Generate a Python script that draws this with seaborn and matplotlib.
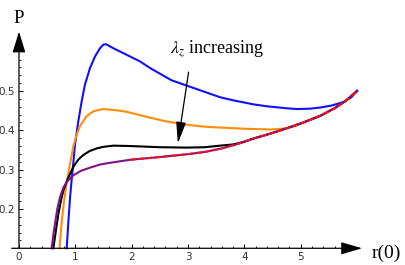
import matplotlib
matplotlib.use("Agg")
import matplotlib.pyplot as plt
from matplotlib.ticker import FixedLocator
import numpy as np
import seaborn as sns

plt.rcParams["mathtext.fontset"] = "stix"

# curves, r(0) vs P
blue_x = [0.847, 0.875, 0.906, 0.935, 0.965, 0.994, 1.053, 1.113, 1.17, 1.26, 1.35, 1.44, 1.50, 1.545,
          1.67, 1.91, 2.15, 2.33, 2.71, 3.21, 3.57, 3.81, 4.16, 4.4, 4.75, 4.93, 5.17, 5.35, 5.55, 5.76, 5.9, 6.0]
blue_y = [0.1, 0.165, 0.228, 0.275, 0.318, 0.363, 0.423, 0.474, 0.516, 0.558, 0.588, 0.609, 0.618, 0.619,
          0.609, 0.592, 0.575, 0.558, 0.527, 0.502, 0.484, 0.476, 0.466, 0.461, 0.456, 0.454, 0.455, 0.458, 0.463, 0.472, 0.484, 0.5]

orange_x = [0.72, 0.76, 0.80, 0.84, 0.90, 0.965, 1.02, 1.08, 1.2, 1.32, 1.42, 1.5, 1.67, 1.91, 2.33, 2.6,
            2.98, 3.3, 3.57, 4.0, 4.46, 4.75, 4.93, 5.05, 5.35, 5.6, 5.8, 6.0]
orange_y = [0.1, 0.17, 0.22, 0.26, 0.31, 0.359, 0.387, 0.41, 0.436, 0.448, 0.452, 0.454, 0.452, 0.447, 0.432, 0.423,
            0.414, 0.409, 0.407, 0.404, 0.402, 0.405, 0.412, 0.42, 0.437, 0.456, 0.475, 0.5]

black_x = [0.61, 0.66, 0.70, 0.75, 0.79, 0.86, 0.965, 1.05, 1.14, 1.25, 1.38, 1.5, 1.68, 1.97, 2.5, 2.98,
           3.3, 3.57, 3.8, 4.0, 4.16, 4.45, 4.75, 5.05, 5.35, 5.6, 5.8, 6.0]
black_y = [0.1, 0.15, 0.188, 0.225, 0.248, 0.275, 0.307, 0.325, 0.337, 0.347, 0.354, 0.358, 0.361, 0.36, 0.357, 0.356,
           0.357, 0.361, 0.364, 0.371, 0.379, 0.391, 0.405, 0.42, 0.437, 0.456, 0.475, 0.5]

purple_x = [0.58, 0.61, 0.64, 0.68, 0.73, 0.79, 0.85, 0.92, 0.97, 1.1, 1.26, 1.44, 1.6, 1.97, 2.5, 2.98,
            3.3, 3.6, 3.9, 4.16, 4.45, 4.75, 5.05, 5.35, 5.6, 5.8, 6.0]
purple_y = [0.1, 0.135, 0.163, 0.2, 0.231, 0.255, 0.269, 0.28, 0.286, 0.297, 0.305, 0.313, 0.317, 0.325, 0.332, 0.339,
            0.345, 0.354, 0.366, 0.379, 0.391, 0.405, 0.42, 0.437, 0.456, 0.475, 0.5]

red_x = [1.97, 2.5, 2.98, 3.3, 3.6, 3.9, 4.16, 4.45, 4.75, 5.05, 5.35, 5.6, 5.8, 6.0]
red_y = [0.325, 0.332, 0.339, 0.345, 0.354, 0.366, 0.379, 0.391, 0.405, 0.42, 0.437, 0.456, 0.475, 0.5]

x_ticks = [0, 1, 2, 3, 4, 5]
y_ticks = [0.2, 0.3, 0.4, 0.5]

fig = plt.figure(figsize=(4.05, 2.65), dpi=100)
ax = fig.add_axes([0, 0, 1, 1])

lw = 1.5
sns.lineplot(x=blue_x, y=blue_y, color="#1010ff", lw=lw, sort=False, estimator=None, ax=ax)
sns.lineplot(x=orange_x, y=orange_y, color="#ff8c0a", lw=lw, sort=False, estimator=None, ax=ax)
sns.lineplot(x=black_x, y=black_y, color="black", lw=lw, sort=False, estimator=None, ax=ax)
sns.lineplot(x=purple_x, y=purple_y, color="#80108a", lw=lw, sort=False, estimator=None, ax=ax)
sns.lineplot(x=red_x, y=red_y, color="#ff1010", lw=lw, sort=False, estimator=None, ax=ax,
             linestyle=(0, (2.5, 1.5)))

ax.set_xlim(-0.337, 6.851)
ax.set_ylim(0.0575, 0.7313)

# Mathematica-style axes crossing at (0, 0.1)
for s in ax.spines.values():
    s.set_visible(False)
ax.spines["left"].set_position(("data", 0))
ax.spines["bottom"].set_position(("data", 0.1))

ax.annotate("", xy=(6.09, 0.1), xytext=(-0.13, 0.1),
            arrowprops=dict(arrowstyle="-|>,head_length=1.3,head_width=0.38", mutation_scale=10,
                            lw=0.9, color="black", shrinkA=0, shrinkB=0))
ax.annotate("", xy=(0, 0.651), xytext=(0, 0.1),
            arrowprops=dict(arrowstyle="-|>,head_length=1.3,head_width=0.4", mutation_scale=10,
                            lw=0.9, color="black", shrinkA=0, shrinkB=0))

ax.xaxis.set_major_locator(FixedLocator(x_ticks))
ax.xaxis.set_minor_locator(FixedLocator(np.arange(0.2, 5.9, 0.2)))
ax.yaxis.set_major_locator(FixedLocator(y_ticks))
ax.yaxis.set_minor_locator(FixedLocator(np.arange(0.12, 0.6, 0.02)))
ax.set_xticklabels([str(t) for t in x_ticks])
ax.set_yticklabels([f"{t:.1f}" for t in y_ticks])
ax.tick_params(which="major", direction="in", length=3, width=0.7, labelsize=7.5,
               labelcolor="#333333", pad=3)
ax.tick_params(which="minor", direction="in", length=1.6, width=0.6)
ax.set_xlabel("")
ax.set_ylabel("")

ax.text(0, 0.685, "P", fontsize=13.5, family="Liberation Serif", ha="center", va="center")
ax.text(6.265, 0.088, "r(0)", fontsize=14, family="Liberation Serif", ha="left", va="center")

ax.text(3.51, 0.606, r"$\lambda_z$ increasing", fontsize=13, family="Liberation Serif",
        ha="center", va="center")
ax.annotate("", xy=(2.82, 0.367), xytext=(3.01, 0.548),
            arrowprops=dict(arrowstyle="-|>,head_length=1.3,head_width=0.3", mutation_scale=10,
                            lw=0.9, color="black", shrinkA=0, shrinkB=0))

fig.savefig("out.png", dpi=100)
